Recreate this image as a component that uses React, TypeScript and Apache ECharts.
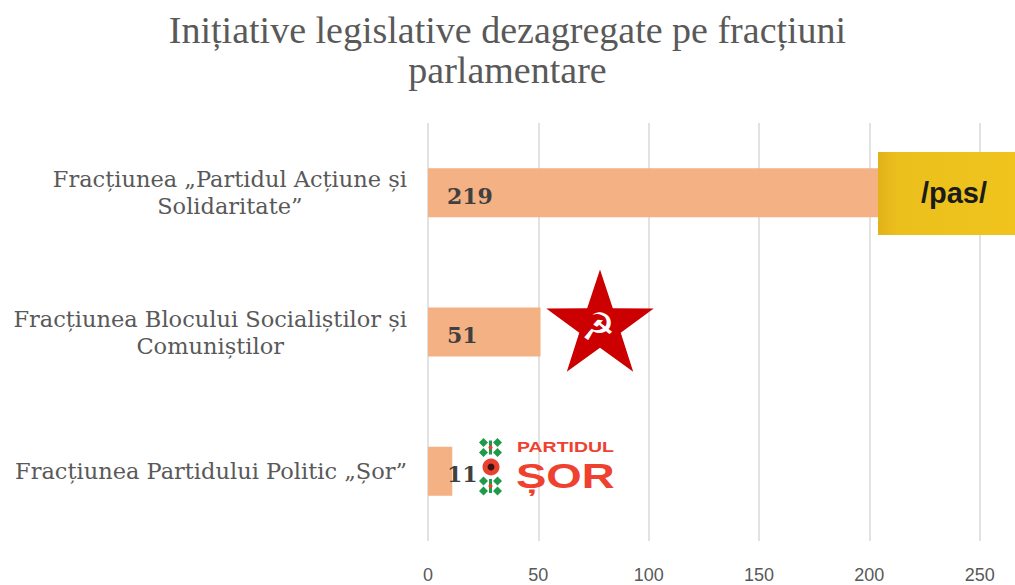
import React, { useEffect, useRef } from "react";
import * as echarts from "echarts";

const titleText = "Inițiative legislative dezagregate pe fracțiuni\nparlamentare";
const categories = [
  "Fracțiunea „Partidul Acțiune și\nSolidaritate”",
  "Fracțiunea Blocului Socialiștilor și\nComuniștilor",
  "Fracțiunea Partidului Politic „Șor”",
];
const values = [219, 51, 11];
const axisMin = 0;
const axisMax = 266;
const axisInterval = 50;

const SERIF = "'DejaVu Serif', 'Liberation Serif', serif";
const SANS = "'Liberation Sans', Arial, sans-serif";

function starPoints(cx: number, cy: number, R: number, r: number) {
  const pts: number[][] = [];
  for (let i = 0; i < 10; i++) {
    const rad = i % 2 === 0 ? R : r;
    const a = -Math.PI / 2 + (i * Math.PI) / 5;
    pts.push([cx + rad * Math.cos(a), cy + rad * Math.sin(a)]);
  }
  return pts;
}

function motif(cx: number, cy: number) {
  const green = "#1f9a4a";
  const els: any[] = [];
  const offs = [
    [-7, -5],
    [7, -5],
    [-7, 5],
    [7, 5],
  ];
  offs.forEach(([dx, dy]) => {
    els.push({
      type: "rect",
      x: cx + dx,
      y: cy + dy,
      rotation: Math.PI / 4,
      z: 100,
      shape: { x: -3.2, y: -3.2, width: 6.4, height: 6.4 },
      style: { fill: green },
    });
  });
  els.push({ type: "rect", z: 100, shape: { x: cx - 1.5, y: cy - 7, width: 3, height: 14 }, style: { fill: green } });
  els.push({ type: "circle", z: 101, shape: { cx, cy, r: 2 }, style: { fill: "#e8412e" } });
  return els;
}

export default function App() {
  const ref = useRef<HTMLDivElement>(null);
  useEffect(() => {
    if (!ref.current) return;
    const chart = echarts.init(ref.current, undefined, { renderer: "svg" });
    const star = starPoints(600, 326, 56.5, 21.8);
    chart.setOption({
      animation: false,
      backgroundColor: "#ffffff",
      title: {
        text: titleText,
        left: "center",
        top: 5,
        textStyle: {
          fontFamily: "'Liberation Serif', serif",
          fontSize: 38,
          fontWeight: "normal",
          color: "#595959",
          lineHeight: 40,
        },
      },
      grid: { left: 428, right: 0, top: 123, bottom: 44, containLabel: false },
      xAxis: {
        type: "value",
        min: axisMin,
        max: axisMax,
        interval: axisInterval,
        axisLine: { show: false },
        axisTick: { show: false },
        splitLine: { show: true, showMaxLine: false, lineStyle: { color: "#d9d9d9", width: 1.5 } },
        axisLabel: {
          showMaxLabel: false,
          color: "#595959",
          fontFamily: SANS,
          fontSize: 18,
          margin: 25,
        },
      },
      yAxis: {
        type: "category",
        inverse: true,
        data: categories,
        axisLine: { show: false },
        axisTick: { show: false },
        axisLabel: {
          margin: 21,
          formatter: (v: string) =>
            v
              .split("\n")
              .map((l) => `{c|${l}}`)
              .join("\n"),
          rich: {
            c: {
              align: "center",
              fontFamily: SERIF,
              fontSize: 22.5,
              color: "#595959",
              lineHeight: 27,
            },
          },
        },
      },
      series: [
        {
          type: "bar",
          data: values,
          barWidth: 49,
          itemStyle: { color: "#f4b183" },
          label: {
            show: true,
            position: "insideLeft",
            distance: 19,
            fontFamily: SERIF,
            fontWeight: "bold",
            fontSize: 22,
            color: "#404040",
            offset: [0, 3],
          },
        },
      ],
      graphic: [
        {
          type: "rect",
          z: 100,
          shape: { x: 878, y: 152, width: 140, height: 83 },
          style: {
            fill: {
              type: "linear",
              x: 0,
              y: 0,
              x2: 1,
              y2: 0,
              colorStops: [
                { offset: 0, color: "#e2b21a" },
                { offset: 0.15, color: "#ecc01c" },
                { offset: 1, color: "#f0c41d" },
              ],
            },
          },
        },
        {
          type: "text",
          z: 101,
          x: 954,
          y: 193,
          style: {
            text: "/pas/",
            fill: "#1b1b1b",
            font: `bold 29px ${SANS}`,
            textAlign: "center",
            textVerticalAlign: "middle",
          },
        },
        {
          type: "polygon",
          z: 100,
          shape: { points: star },
          style: { fill: "#cc0000" },
        },
        {
          type: "text",
          z: 101,
          x: 598,
          y: 327,
          style: {
            text: "☭",
            fill: "#ffffff",
            font: "bold 38px 'DejaVu Sans', sans-serif",
            textAlign: "center",
            textVerticalAlign: "middle",
          },
        },
        ...motif(490.5, 447.5),
        ...motif(490.5, 486),
        {
          type: "circle",
          z: 100,
          shape: { cx: 491, cy: 467, r: 8.5 },
          style: { fill: "#e8412e" },
        },
        {
          type: "circle",
          z: 101,
          shape: { cx: 491, cy: 467, r: 3.5 },
          style: { fill: "#3a1414" },
        },
        {
          type: "text",
          z: 100,
          x: 517,
          y: 447,
          scaleX: 1.3,
          style: {
            text: "PARTIDUL",
            fill: "#ef4130",
            font: `bold 15px ${SANS}`,
            textAlign: "left",
            textVerticalAlign: "middle",
          },
        },
        {
          type: "text",
          z: 100,
          x: 516,
          y: 476,
          scaleX: 1.3,
          style: {
            text: "ȘOR",
            fill: "#ef4130",
            font: `bold 35px ${SANS}`,
            textAlign: "left",
            textVerticalAlign: "middle",
          },
        },
      ],
    });
    return () => chart.dispose();
  }, []);
  return (
    <div
      ref={ref}
      style={{ position: "absolute", left: 0, top: 0, width: 1015, height: 585 }}
    />
  );
}
